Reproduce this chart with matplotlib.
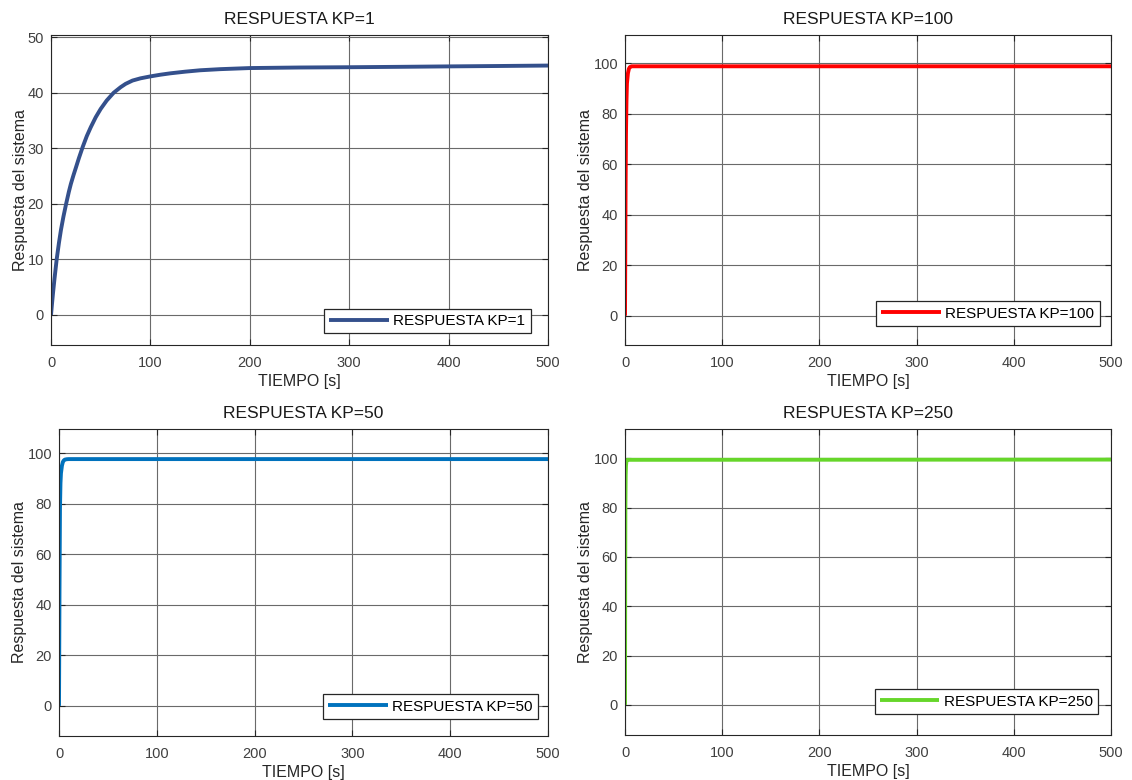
import matplotlib
matplotlib.use("Agg")
import matplotlib.pyplot as plt

# ---- data ----
t_kp1 = [0, 1, 2, 3.5, 5.7, 8, 10, 12.5, 15.2, 18, 20, 22.5, 25, 28, 32, 36, 40, 45, 50, 56, 63,
         70, 75, 82, 90, 100, 110, 120, 135, 150, 170, 200, 250, 300, 350, 400, 450, 500]
y_kp1 = [0, 2.0, 3.9, 6.5, 10.0, 13.0, 15.3, 17.7, 20.0, 22.2, 23.6, 25.1, 26.5, 28.2, 30.3, 32.2,
         33.8, 35.6, 37.1, 38.6, 40.0, 41.0, 41.6, 42.2, 42.6, 42.95, 43.25, 43.5, 43.8, 44.05, 44.25,
         44.45, 44.55, 44.6, 44.67, 44.75, 44.82, 44.9]

t_kp100 = [0, 0.3, 0.6, 1, 1.5, 2, 3, 4, 5, 7, 500]
y_kp100 = [0, 25, 50, 72, 85, 92, 96, 97.8, 98.5, 98.8, 98.8]

t_kp50 = [0, 0.5, 1, 1.5, 2, 3, 4, 5, 6, 8, 10, 500]
y_kp50 = [0, 45, 78, 88, 92, 95, 96.5, 97.1, 97.4, 97.55, 97.6, 97.6]

t_kp250 = [0, 0.2, 0.4, 0.7, 1, 1.5, 2, 500]
y_kp250 = [0, 50, 80, 93, 97, 99, 99.4, 99.5]

titles = ["RESPUESTA KP=1", "RESPUESTA KP=100", "RESPUESTA KP=50", "RESPUESTA KP=250"]
labels = ["RESPUESTA KP=1", "RESPUESTA KP=100", "RESPUESTA KP=50", "RESPUESTA KP=250"]
colors = ["#34508c", "#ff0000", "#0072bd", "#66d62a"]
xticks = [0, 100, 200, 300, 400, 500]
yticks_kp1 = [0, 10, 20, 30, 40, 50]
yticks_other = [0, 20, 40, 60, 80, 100]

plt.rcParams['font.family'] = ['Liberation Sans', 'DejaVu Sans']

fig = plt.figure(figsize=(11.32, 7.8), dpi=100)
W, H = 1132, 780

def make_ax(left, right, top, bottom):
    return fig.add_axes([left / W, (H - bottom) / H, (right - left) / W, (bottom - top) / H])

axes = [make_ax(51, 548, 35, 345), make_ax(625, 1111, 35, 345),
        make_ax(59, 548, 429, 736), make_ax(625, 1111, 429, 735)]
data = [(t_kp1, y_kp1), (t_kp100, y_kp100), (t_kp50, y_kp50), (t_kp250, y_kp250)]
ylims = [(-5.4, 50.4), (-11.6, 111.2), (-11.9, 109.5), (-12.2, 111.9)]
yticks = [yticks_kp1, yticks_other, yticks_other, yticks_other]
leg_anchor = [(0.965, 0.038), (0.977, 0.061), (0.98, 0.055), (0.974, 0.069)]

for ax, (t, y), title, lab, col, yl, yt, anc in zip(axes, data, titles, labels, colors, ylims, yticks, leg_anchor):
    ax.plot(t, y, color=col, lw=2.8, label=lab, solid_capstyle='butt', solid_joinstyle='round')
    ax.set_xlim(0, 500)
    ax.set_ylim(*yl)
    ax.set_xticks(xticks)
    ax.set_yticks(yt)
    ax.grid(True, color='#6a6a6a', lw=0.8)
    ax.set_axisbelow(True)
    ax.tick_params(direction='in', length=4, width=0.8, top=True, right=True,
                   labelsize=10.5, labelcolor='#404040', color='#262626')
    ax.tick_params(axis='x', pad=8)
    ax.tick_params(axis='y', pad=5)
    for s in ax.spines.values():
        s.set_color('#262626')
        s.set_linewidth(0.8)
    ax.set_title(title, fontsize=12.5, color='#1a1a1a', pad=8)
    ax.set_xlabel("TIEMPO [s]", fontsize=11.5, color='#262626', labelpad=3)
    ax.set_ylabel("Respuesta del sistema", fontsize=11.5, color='#262626', labelpad=0)
    leg = ax.legend(loc='lower right', bbox_to_anchor=anc, borderaxespad=0, fancybox=False,
                    framealpha=1, edgecolor='#262626', fontsize=11, handlelength=3.9,
                    borderpad=0.35, handletextpad=0.3)
    leg.get_frame().set_linewidth(0.9)

fig.savefig("out.png", dpi=100)
